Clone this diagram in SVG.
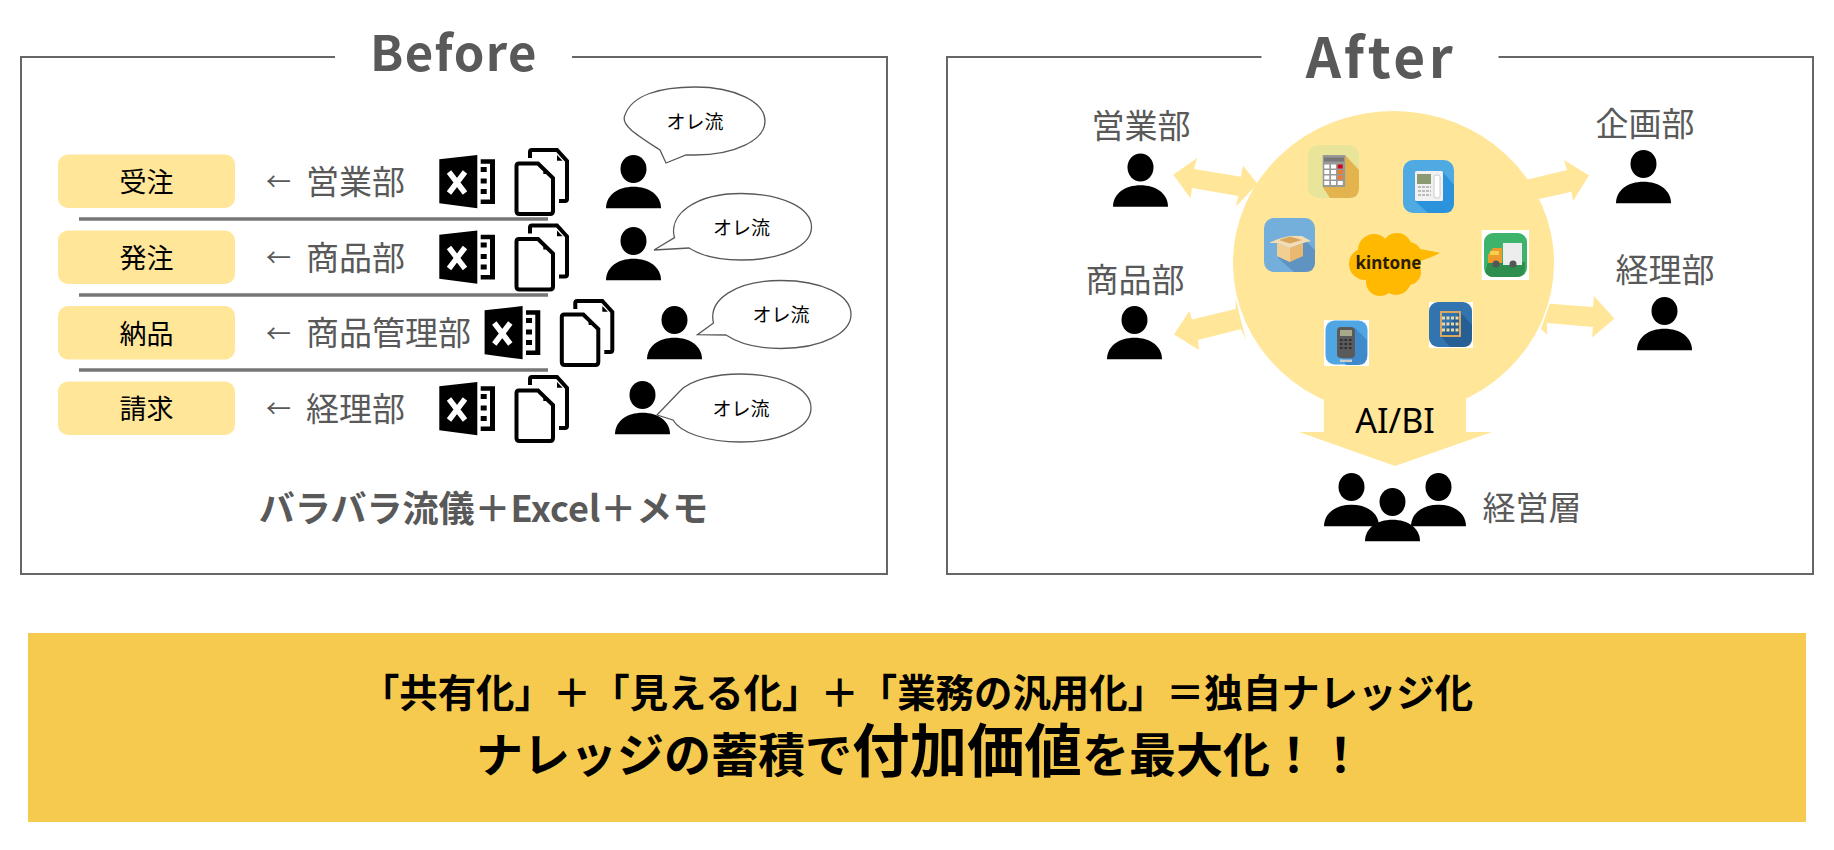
<svg xmlns="http://www.w3.org/2000/svg" width="1834" height="850" viewBox="0 0 1834 850">
<style>
text{font-family:"Noto Sans CJK JP","Noto Sans",sans-serif}
.frame{fill:none;stroke:#666;stroke-width:2}
.title{font-size:49px;font-weight:700;fill:#595959;text-anchor:middle;letter-spacing:1.5px}
.pill{fill:#FFE699}
.pillt{font-size:27px;fill:#000;text-anchor:middle}
.dept{font-size:33px;fill:#595959}
.ar{font-size:25px}
.deptc{font-size:33px;fill:#595959;text-anchor:middle}
.sep{stroke:#767676;stroke-width:3.5}
.bub{fill:#fff;stroke:#595959;stroke-width:1.3}
.bubt{font-size:19px;fill:#000;text-anchor:middle}
.arr{fill:#FFE699}
.band1{font-size:38.4px;font-weight:700;fill:#000;text-anchor:middle}
.band2{font-size:47px;font-weight:700;fill:#000}
</style>
<defs>
<g id="person"><ellipse cx="633.5" cy="169" rx="13" ry="14"/><path d="M606 208.3C606 195 618 186.7 633.5 186.7C649 186.7 661 195 661 208.3Z"/></g>
<g id="excel">
<path d="M439.3 159.3L477.3 155V208.3L439.3 203.3Z"/>
<path d="M449 172L465 193M465 172L449 193" stroke="#fff" stroke-width="5.5"/>
<path d="M480.7 159.3H495V204H480.7V199.5H490V163.7H480.7Z"/>
<rect x="480.7" y="167" width="6" height="5"/><rect x="480.7" y="178.5" width="6" height="5"/><rect x="480.7" y="189" width="6" height="5"/>
</g>
<g id="docs">
<path d="M530 158V152q0-2 2-2H557L567 161V199q0 2-2 2H559" fill="none" stroke="#000" stroke-width="4"/>
<path d="M557 155L562.6 160.7H557Z"/>
<path d="M516.5 166q0-2.5 2.5-2.5H538L553 178V211q0 3-3 3H519.5q-3 0-3-3Z" fill="#fff" stroke="#000" stroke-width="4"/>
<path d="M543.3 169L548 174H543.3Z"/>
</g>
</defs>
<rect width="1834" height="850" fill="#fff"/>

<g id="before-frame">
<path class="frame" d="M335 57H21V574H887V57H572"/>
<text class="title" x="454" y="71">Before</text>
</g>
<g id="separators">
<line class="sep" x1="79" y1="219" x2="548" y2="219"/>
<line class="sep" x1="79" y1="295" x2="548" y2="295"/>
<line class="sep" x1="79" y1="370" x2="548" y2="370"/>
</g>

<g id="row-juchu">
<rect class="pill" x="58" y="154.5" width="177" height="53.5" rx="10"/>
<text class="pillt" x="146.5" y="192">受注</text>
<text class="dept" y="193.5"><tspan class="ar" x="266" y="191">←</tspan><tspan x="306" y="193.5">営業部</tspan></text>
<use href="#excel"/><use href="#docs"/><use href="#person"/>
<path class="bub" d="M660 150C637 135 620 125 625 115C632 95 660 87 695 87C735 87 765 102 765 121C765 140 735 155 695 155L686 155L666 163Z"/>
<text class="bubt" x="695" y="129">オレ流</text>
</g>
<g id="row-hatchu">
<rect class="pill" x="58" y="230.5" width="177" height="53.5" rx="10"/>
<text class="pillt" x="146.5" y="268">発注</text>
<text class="dept" y="269.5"><tspan class="ar" x="266" y="267">←</tspan><tspan x="306" y="269.5">商品部</tspan></text>
<use href="#excel" y="75.5"/><use href="#docs" y="75.5"/><use href="#person" y="72"/>
<path class="bub" d="M674.5 237.6C668 215 695 193.5 741 193.5C782 193.5 811.5 208 811.5 227C811.5 246 782 260 741 260C718 260 700 255 689 248L654 250Z"/>
<text class="bubt" x="741.5" y="234.5">オレ流</text>
</g>
<g id="row-nohin">
<rect class="pill" x="58" y="306" width="177" height="53.5" rx="10"/>
<text class="pillt" x="146.5" y="343.5">納品</text>
<text class="dept" y="345"><tspan class="ar" x="266" y="342.5">←</tspan><tspan x="306" y="345">商品管理部</tspan></text>
<use href="#excel" x="45.3" y="151"/><use href="#docs" x="45.3" y="151"/><use href="#person" x="41" y="151"/>
<path class="bub" d="M713.5 323C708 300 735 280.5 781 280.5C822 280.5 851 295 851 314.5C851 333 822 348.5 781 348.5C757 348.5 738 343 726 335L697.5 334.6Z"/>
<text class="bubt" x="781" y="322">オレ流</text>
</g>
<g id="row-seikyu">
<rect class="pill" x="58" y="381.5" width="177" height="53.5" rx="10"/>
<text class="pillt" x="146.5" y="419">請求</text>
<text class="dept" y="420.5"><tspan class="ar" x="266" y="418">←</tspan><tspan x="306" y="420.5">経理部</tspan></text>
<use href="#excel" y="227"/><use href="#docs" y="227"/><use href="#person" x="9" y="226"/>
<path class="bub" d="M657 415L680 391C690 380 715 374 741 374C782 374 811 389 811 408C811 427 782 442 741 442C705 442 680 432 673 420Z"/>
<text class="bubt" x="741" y="416">オレ流</text>
</g>
<text id="before-caption" x="483.5" y="522" font-size="36" font-weight="700" fill="#595959" text-anchor="middle">バラバラ流儀＋Excel＋メモ</text>

<g id="after-frame">
<path class="frame" d="M1261.5 57H947V574H1813V57H1498.5"/>
<text class="title" x="1381" y="78" style="font-size:55px;letter-spacing:3.5px">After</text>
</g>

<g id="connectors">
<path class="arr" d="M1173.3 174.8L1197 158L1194 169L1241 176.7L1243 165.4L1257.5 184L1235.6 206.8L1238.4 196L1192 188L1190.6 198.5Z"/>
<path class="arr" d="M1173.9 334.6L1189.4 311L1192 319.5L1235.6 309V299L1246 340L1241 329L1198 340L1199 350Z"/>
<path class="arr" d="M1526.7 179.7L1567 170L1564 160L1589 175.6L1573 201L1571.6 191.7L1539 199Z"/>
<path class="arr" d="M1549.8 303.8L1593 307L1594 296L1614.4 318.8L1592 337.6L1593 327L1547 323L1547 334.6L1541 329Z"/>
<path class="arr" d="M1323.8 380H1466V432H1492L1395 466L1299 432H1323.8Z"/>
</g>

<g id="kintone-hub">
<ellipse class="arr" cx="1393.5" cy="263" rx="160.5" ry="152"/>
<g id="app-calculator">
<rect x="1308" y="145" width="51" height="53" rx="10" fill="#E8E59B"/>
<path d="M1345 155L1359 170V188q0 10-10 10H1330L1322.7 187Z" fill="#E3B44D"/>
<rect x="1322.7" y="155" width="22.5" height="32" fill="#999"/>
<rect x="1324" y="157.5" width="20" height="4" fill="#777"/>
<g fill="#fff"><rect x="1324.3" y="164.5" width="5" height="4"/><rect x="1331" y="164.5" width="5" height="4"/><rect x="1324.3" y="170" width="5" height="4"/><rect x="1331" y="170" width="5" height="4"/><rect x="1324.3" y="175.5" width="5" height="4"/><rect x="1331" y="175.5" width="5" height="4"/><rect x="1324.3" y="181" width="5" height="4"/><rect x="1331" y="181" width="5" height="4"/><rect x="1337.7" y="181" width="5" height="4"/></g>
<rect x="1337.7" y="164.5" width="5" height="4" fill="#D0021B"/><rect x="1337.7" y="170" width="5" height="4" fill="#EE7B2B"/><rect x="1337.7" y="175.5" width="5" height="4" fill="#EE7B2B"/>
</g>
<g id="app-phone">
<rect x="1403" y="160" width="51" height="53" rx="10" fill="#4FAAE3"/>
<path d="M1442 171L1454 185V203q0 10-10 10H1428L1415 201Z" fill="#2B93DC"/>
<rect x="1415" y="171" width="28" height="30" rx="1.5" fill="#F1F1F1"/>
<rect x="1417" y="174" width="14" height="10" fill="#8C9A73"/>
<path d="M1418 187H1431M1418 191H1431M1418 195H1431" stroke="#BBB" stroke-width="2" stroke-dasharray="3 1"/>
<rect x="1434" y="175" width="6" height="23" rx="2" fill="#fff" stroke="#CCC"/>
</g>
<g id="app-box">
<rect x="1264" y="218" width="51" height="54" rx="10" fill="#74AEDA"/>
<path d="M1303 238L1315 250V262q0 10-10 10H1294L1278 258Z" fill="#5F94C2"/>
<path d="M1277 243L1290 248L1303 243V256L1290 262L1277 256Z" fill="#E9B96F"/>
<path d="M1290 248V262L1277 256V243Z" fill="#F2CE92"/>
<path d="M1269 243L1278 239L1289 236L1302 236L1311 241L1303 243L1290 248L1277 243Z" fill="#F3DDB4"/>
<path d="M1279 240L1290 236.5L1302 240L1290 243.5Z" fill="#D8A55C"/>
</g>
<g id="app-truck">
<rect x="1481.7" y="230" width="47.3" height="50" fill="#fff"/>
<rect x="1484" y="233" width="43" height="44" rx="9" fill="#3EB36B"/>
<path d="M1488 262H1525V268q0 9-9 9H1493q-5 0-8-5Z" fill="#2E8E4E"/>
<rect x="1503" y="243" width="19" height="22" fill="#EDEDED"/>
<path d="M1488 263V255L1493 248H1502V263Z" fill="#EE9B2B"/>
<rect x="1490" y="251" width="9" height="4" fill="#F6D04D"/>
<circle cx="1496" cy="264" r="3.5" fill="#555"/><circle cx="1513" cy="264" r="3.5" fill="#555"/>
</g>
<g id="app-abacus">
<rect x="1429" y="302" width="44" height="46" fill="#fff"/>
<rect x="1429" y="302" width="43" height="45" rx="9" fill="#3274B0"/>
<path d="M1460 312L1472 325V338q0 9-9 9H1450L1440 335Z" fill="#255F93"/>
<rect x="1441" y="312" width="19" height="24" fill="none" stroke="#D9A55F" stroke-width="2"/>
<path d="M1442 318H1459M1442 324H1459M1442 330H1459" stroke="#EBD8A8" stroke-width="3" stroke-dasharray="3 1.5"/>
</g>
<g id="app-terminal">
<rect x="1324" y="320" width="45" height="46" fill="#fff"/>
<rect x="1325.5" y="320.5" width="42" height="44" rx="9" fill="#4FA6E2"/>
<path d="M1355 328L1367 340V356q0 9-9 9H1346L1340 355Z" fill="#3E8ACB"/>
<rect x="1337" y="327" width="18" height="31" rx="4" fill="#5A5A5A"/>
<rect x="1340" y="330" width="12" height="6" fill="#A8A98A"/>
<path d="M1340 340H1352M1340 344H1352M1340 348H1352" stroke="#2E2E2E" stroke-width="2" stroke-dasharray="2.5 2"/>
<rect x="1340" y="359.5" width="12" height="2.5" fill="#ccc"/>
</g>
<g id="kintone-logo" fill="#FFB900">
<circle cx="1374" cy="250" r="16"/><circle cx="1397" cy="248" r="15"/><circle cx="1408" cy="256" r="14"/><circle cx="1365" cy="264" r="16"/><circle cx="1380" cy="282" r="14"/><circle cx="1396" cy="280" r="15"/><circle cx="1408" cy="272" r="13"/><circle cx="1388" cy="264" r="22"/>
<path d="M1415 248L1440 252.7C1434 257 1427 258 1418 262Z"/>
<text x="1388.5" y="269" font-size="17" font-weight="700" fill="#2B1D00" text-anchor="middle" style="font-family:'Noto Sans',sans-serif">kintone</text>
</g>
<text x="1395" y="433" font-size="34" fill="#000" text-anchor="middle" style="font-family:'Noto Sans',sans-serif">AI/BI</text>
</g>

<g id="dept-eigyo"><text class="deptc" x="1141" y="138">営業部</text><use href="#person" x="507" y="-1.5"/></g>
<g id="dept-kikaku"><text class="deptc" x="1645" y="135.5">企画部</text><use href="#person" x="1010" y="-5"/></g>
<g id="dept-shohin"><text class="deptc" x="1135" y="291.5">商品部</text><use href="#person" x="501" y="151"/></g>
<g id="dept-keiri"><text class="deptc" x="1665" y="282">経理部</text><use href="#person" x="1031" y="142"/></g>
<g id="dept-keiei">
<use href="#person" x="718" y="318"/><use href="#person" x="805" y="318"/><use href="#person" x="759" y="333"/>
<text class="deptc" x="1532" y="520">経営層</text>
</g>

<g id="band">
<rect x="28" y="633" width="1778" height="189" fill="#F6CA4F"/>
<text class="band1" x="917" y="707">「共有化」＋「見える化」＋「業務の汎用化」＝独自ナレッジ化</text>
<text class="band2" x="476" y="772">ナレッジの蓄積で<tspan font-size="57.5">付加価値</tspan>を最大化！！</text>
</g>
</svg>
